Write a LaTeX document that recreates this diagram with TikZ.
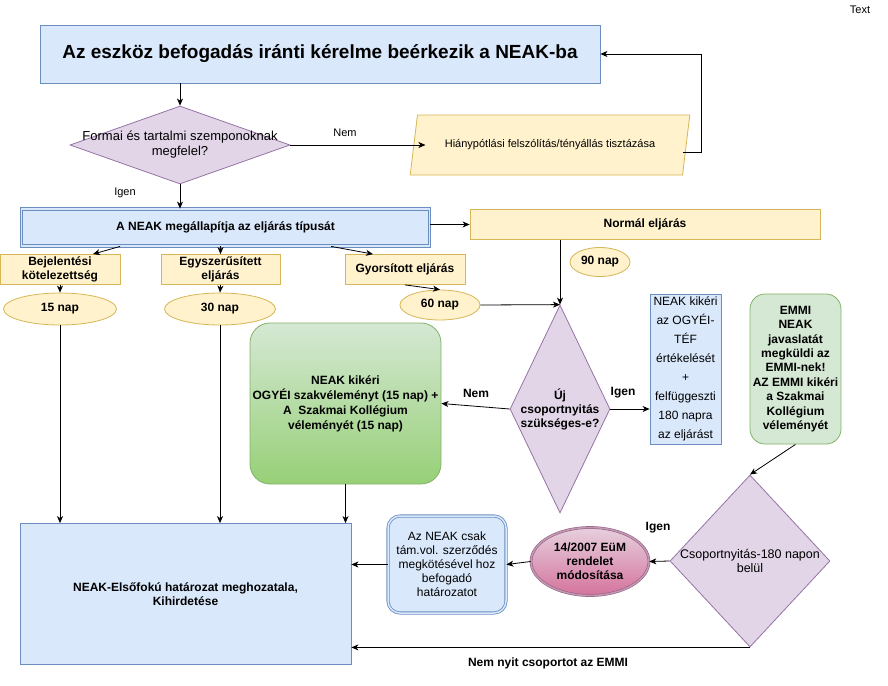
\documentclass[tikz,border=0pt]{standalone}
\usepackage{fontspec}
\setmainfont{Liberation Sans}
\usetikzlibrary{shapes.geometric,arrows.meta,calc}
\definecolor{bluefill}{HTML}{DAE8FC}
\definecolor{blueline}{HTML}{6C8EBF}
\definecolor{yellowfill}{HTML}{FFF2CC}
\definecolor{yellowline}{HTML}{D6B656}
\definecolor{violetfill}{HTML}{E1D5E7}
\definecolor{violetline}{HTML}{9673A6}
\definecolor{greenfill}{HTML}{D5E8D4}
\definecolor{greendark}{HTML}{97D077}
\definecolor{greenline}{HTML}{82B366}
\definecolor{pinktop}{HTML}{E6D0DE}
\definecolor{pinkbot}{HTML}{D5739D}
\definecolor{pinkline}{HTML}{996185}
\newcommand{\fsz}[2]{\fontsize{#1}{#2}\selectfont}
\newcommand{\zw}[1]{\makebox[0pt]{#1}}
\begin{document}
\begin{tikzpicture}[x=1pt,y=-1pt,
    arr/.style={draw=black,line width=0.8pt,-{Stealth[length=7pt,width=6pt,inset=2pt]}},
    bluebox/.style={draw=blueline,fill=bluefill,line width=0.8pt,inner sep=2pt,align=center},
    yellowbox/.style={draw=yellowline,fill=yellowfill,line width=0.8pt,inner sep=2pt,align=center},
    violetdia/.style={diamond,draw=violetline,fill=violetfill,line width=0.8pt,inner sep=0pt,align=center},
    napell/.style={ellipse,draw=yellowline,fill=yellowfill,line width=0.8pt,inner sep=0pt,font=\bfseries\fsz{12}{14}},
    greenbox/.style={draw=greenline,line width=0.8pt,inner sep=2pt,align=center,font=\bfseries\fsz{12}{15}},
    lbl/.style={inner sep=0pt}]
  \useasboundingbox (0,0) rectangle (888,685);

  \node[lbl,font=\fsz{11}{13}] (txt) at (860,10) {Text};

  \node[bluebox,minimum width=560pt,minimum height=58pt,font=\bfseries\fsz{19}{22}] (title) at (320,54) {Az eszköz befogadás iránti kérelme beérkezik a NEAK-ba};
  \node[violetdia,minimum width=220pt,minimum height=78pt,font=\fsz{13}{15}] (q1) at (180,145) {\zw{Formai és tartalmi szemponoknak}\\\zw{megfelel?}};
  \node[trapezium,trapezium left angle=61,trapezium right angle=119,trapezium stretches=true,draw=yellowline,fill=yellowfill,line width=0.8pt,inner sep=0pt,minimum width=280pt,minimum height=60pt,font=\fsz{11}{13}] (hp) at (550,145) {Hiánypótlási felszólítás/tényállás tisztázása};

  \node[bluebox,draw=blueline,double=bluefill,double distance=1.5pt,minimum width=408pt,minimum height=37pt,font=\bfseries\fsz{12}{14}] (neak) at (225.5,227.5) {A NEAK megállapítja az eljárás típusát};
  \node[yellowbox,minimum width=350pt,minimum height=30pt,font=\bfseries\fsz{12}{14}] (normal) at (645,224.5) {Normál eljárás};

  \node[yellowbox,minimum width=120pt,minimum height=30pt,font=\bfseries\fsz{12}{14}] (bej) at (60,269.5) {Bejelentési\\kötelezettség};
  \node[yellowbox,minimum width=119pt,minimum height=30pt,font=\bfseries\fsz{12}{14}] (egy) at (220.5,269.5) {Egyszerűsített\\eljárás};
  \node[yellowbox,minimum width=120pt,minimum height=30pt,font=\bfseries\fsz{12}{14}] (gyo) at (405,269.5) {Gyorsított eljárás};

  \node[napell,minimum width=113pt,minimum height=32pt] (n15) at (60,309) {15 nap};
  \node[napell,minimum width=111pt,minimum height=32pt] (n30) at (220,309) {30 nap};
  \node[napell,minimum width=80pt,minimum height=30pt] (n60) at (440,305) {60 nap};
  \node[napell,minimum width=60pt,minimum height=29pt] (n90) at (600,262) {90 nap};

  \node[violetdia,minimum width=100pt,minimum height=208pt,font=\bfseries\fsz{12}{14}] (q2) at (560,409) {\zw{Új}\\\zw{csoportnyitás}\\\zw{szükséges-e?}};
  \node[greenbox,rounded corners=20pt,top color=greenfill,bottom color=greendark,minimum width=191pt,minimum height=161pt] (kikeri) at (345.5,403.5) {NEAK kikéri\\OGYÉI szakvéleményt (15 nap) +\\A~ Szakmai Kollégium\\véleményét (15 nap)};
  \node[bluebox,minimum width=71pt,minimum height=150pt,inner sep=0pt,font=\fsz{12}{19}] (ogyei) at (685.5,369) {NEAK kikéri\\az OGYÉI-\\TÉF\\értékelését\\+\\felfüggeszti\\180 napra\\az eljárást};
  \node[greenbox,rounded corners=15pt,fill=greenfill,minimum width=91pt,minimum height=150pt,inner sep=0pt,font=\bfseries\fsz{12}{14.4}] (emmi) at (795.5,369) {EMMI\\NEAK\\javaslatát\\megküldi az\\EMMI-nek!\\AZ EMMI kikéri\\a Szakmai\\Kollégium\\véleményét};

  \node[violetdia,minimum width=160pt,minimum height=172pt,font=\fsz{12.5}{14}] (q3) at (750,561) {\zw{Csoportnyitás-180 napon}\\\zw{belül}};
  \node[ellipse,draw=pinkline,double=pinkline!50!pinktop,double distance=1.5pt,line width=0.6pt,top color=pinktop,bottom color=pinkbot,inner sep=0pt,minimum width=118pt,minimum height=68pt,align=center,font=\bfseries\fsz{12}{14}] (eum) at (590,561.5) {14/2007 EüM\\rendelet\\módosítása};
  \node[bluebox,rounded corners=12pt,double=bluefill,double distance=1.5pt,minimum width=118pt,minimum height=97pt,font=\fsz{12}{14}] (csak) at (447,564.5) {Az NEAK csak\\tám.vol. szerződés\\megkötésével hoz\\befogadó\\határozatot};
  \node[bluebox,minimum width=331pt,minimum height=141pt,font=\bfseries\fsz{12}{14}] (hat) at (185.5,594) {NEAK-Elsőfokú határozat meghozatala,\\Kihirdetése};

  \node[lbl,font=\fsz{11}{13}] (nem1) at (345,133) {Nem};
  \node[lbl,font=\fsz{11}{13}] (igen1) at (125,193) {Igen};
  \node[lbl,font=\bfseries\fsz{12}{14}] (nem2) at (476,393) {Nem};
  \node[lbl,font=\bfseries\fsz{12}{14}] (igen2) at (623,393) {Igen};
  \node[lbl,font=\bfseries\fsz{12}{14}] (igen3) at (658,528) {Igen};
  \node[lbl,font=\bfseries\fsz{12}{14}] (nemnyit) at (548,663) {Nem nyit csoportot az EMMI};

  \draw[arr] (q1.north |- title.south) -- (q1.north);
  \draw[arr] (q1.east) -- ($(q1.east -| hp.west)+(12,0)$);
  \draw[arr] ($(hp.east)+(-4,7)$) -- ++(19,0) |- (title.east);
  \draw[arr] (q1.south) -- (q1.south |- neak.north);
  \draw[arr] (neak.east |- normal.west) -- (normal.west);
  \draw[arr] ($(neak.south west)+(99,0)$) -- ($(bej.north)+(33,0)$);
  \draw[arr] (egy.north |- neak.south) -- (egy.north);
  \draw[arr] ($(neak.south west)+(310,0)$) -- ($(gyo.north)+(-32,0)$);
  \draw[arr] (bej.south) -- (n15.north);
  \draw[arr] (egy.south) -- (n30.north);
  \draw[arr] (gyo.south) -- (n60.north);
  \draw[arr] (n60.east) -- (q2.north);
  \draw[arr] (q2.north |- normal.south) -- (q2.north);
  \draw[arr] (q2.west) -- (kikeri.east);
  \draw[arr] (q2.east) -- (q2.east -| ogyei.west);
  \draw[arr] (emmi.south) -- (q3.north);
  \draw[arr] (q3.west) -- (eum.east);
  \draw[arr] (eum.west) -- (csak.east);
  \draw[arr] (csak.west) -- (csak.west -| hat.east);
  \draw[arr] (q3.south) -- (q3.south -| hat.east);
  \draw[arr] (n15.south) -- (n15.south |- hat.north);
  \draw[arr] (n30.south) -- (n30.south |- hat.north);
  \draw[arr] (kikeri.south) -- (kikeri.south |- hat.north);
\end{tikzpicture}
\end{document}
